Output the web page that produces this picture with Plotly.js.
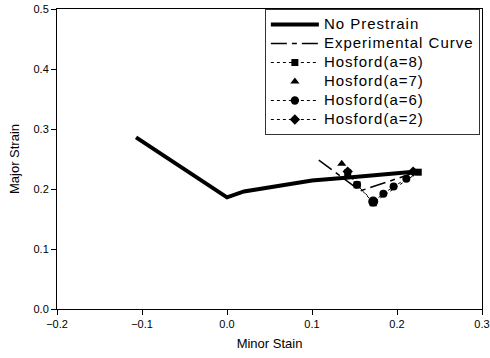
<!DOCTYPE html>
<html>
<head>
<meta charset="utf-8">
<script src="https://cdn.plot.ly/plotly-3.0.1.min.js"></script>
<style>
html,body{margin:0;padding:0;background:#fff;}
#chart{width:490px;height:358px;}
text.legendtext{font-size:15px !important;letter-spacing:1px;}
</style>
</head>
<body>
<div id="chart"></div>
<script>
// No Prestrain
const noPreX = [-0.107, 0.0, 0.02, 0.06, 0.10, 0.15, 0.20, 0.223];
const noPreY = [0.286, 0.186, 0.196, 0.205, 0.214, 0.220, 0.226, 0.229];
// Experimental Curve
const expX = [0.108, 0.157, 0.189, 0.222];
const expY = [0.248, 0.197, 0.212, 0.228];
// Hosford(a=8)
const h8X = [0.142, 0.153, 0.172, 0.225];
const h8Y = [0.227, 0.207, 0.177, 0.228];
// Hosford(a=7)
const h7X = [0.135];
const h7Y = [0.242];
// Hosford(a=6)
const h6X = [0.153, 0.172, 0.184, 0.196, 0.211];
const h6Y = [0.207, 0.179, 0.192, 0.204, 0.217];
const h6Size = [8, 10, 8, 8, 8];
// Hosford(a=2)
const h2X = [0.142, null, 0.219];
const h2Y = [0.229, null, 0.229];

const xTicks = [-0.2, -0.1, 0.0, 0.1, 0.2, 0.3];
const yTicks = [0.0, 0.1, 0.2, 0.3, 0.4, 0.5];

const fontFam = 'Liberation Sans, Arial, sans-serif';

const traces = [
  {x: noPreX, y: noPreY, name: 'No Prestrain', mode: 'lines',
   line: {color: '#000', width: 4}},
  {x: expX, y: expY, name: 'Experimental Curve', mode: 'lines',
   line: {color: '#000', width: 1.5, dash: '16px,5px,5px,5px'}},
  {x: h8X, y: h8Y, name: 'Hosford(a=8)', mode: 'lines+markers',
   line: {color: '#000', width: 1, dash: 'dot'},
   marker: {symbol: 'square', size: 7, color: '#000', opacity: 1}},
  {x: h7X, y: h7Y, name: 'Hosford(a=7)', mode: 'markers',
   marker: {symbol: 'triangle-up', size: 8, color: '#000', opacity: 1}},
  {x: h6X, y: h6Y, name: 'Hosford(a=6)', mode: 'lines+markers',
   line: {color: '#000', width: 1, dash: 'dot'},
   marker: {symbol: 'circle', size: h6Size, color: '#000', opacity: 1,
            line: {width: 0}}},
  {x: h2X, y: h2Y, name: 'Hosford(a=2)', mode: 'lines+markers', connectgaps: false,
   line: {color: '#000', width: 1, dash: 'dot'},
   marker: {symbol: 'diamond', size: 8, color: '#000', opacity: 1}}
];

const layout = {
  width: 490, height: 358,
  margin: {l: 57, r: 8, t: 9, b: 49},
  paper_bgcolor: '#fff', plot_bgcolor: '#fff',
  font: {family: fontFam, color: '#000', size: 11},
  showlegend: true,
  legend: {
    x: 0.995, xanchor: 'right', y: 1, yanchor: 'top',
    bgcolor: '#fff', bordercolor: '#333', borderwidth: 1,
    font: {family: fontFam, size: 12, color: '#000'},
    itemwidth: 48, tracegroupgap: 0
  },
  xaxis: {
    range: [-0.2, 0.3], tickvals: xTicks, tickformat: '.1f',
    showgrid: false, zeroline: false,
    showline: true, linecolor: '#000', linewidth: 1, mirror: true,
    ticks: 'outside', ticklen: 5, tickcolor: '#000',
    tickfont: {size: 11},
    title: {text: 'Minor Stain', font: {size: 13}, standoff: 9}
  },
  yaxis: {
    range: [0, 0.5], tickvals: yTicks, tickformat: '.1f',
    showgrid: false, zeroline: false,
    showline: true, linecolor: '#000', linewidth: 1, mirror: true,
    ticks: 'outside', ticklen: 5, tickcolor: '#000',
    tickfont: {size: 11},
    title: {text: 'Major Strain', font: {size: 13}, standoff: 10}
  }
};

Plotly.newPlot('chart', traces, layout, {displayModeBar: false, staticPlot: true});
</script>
</body>
</html>
